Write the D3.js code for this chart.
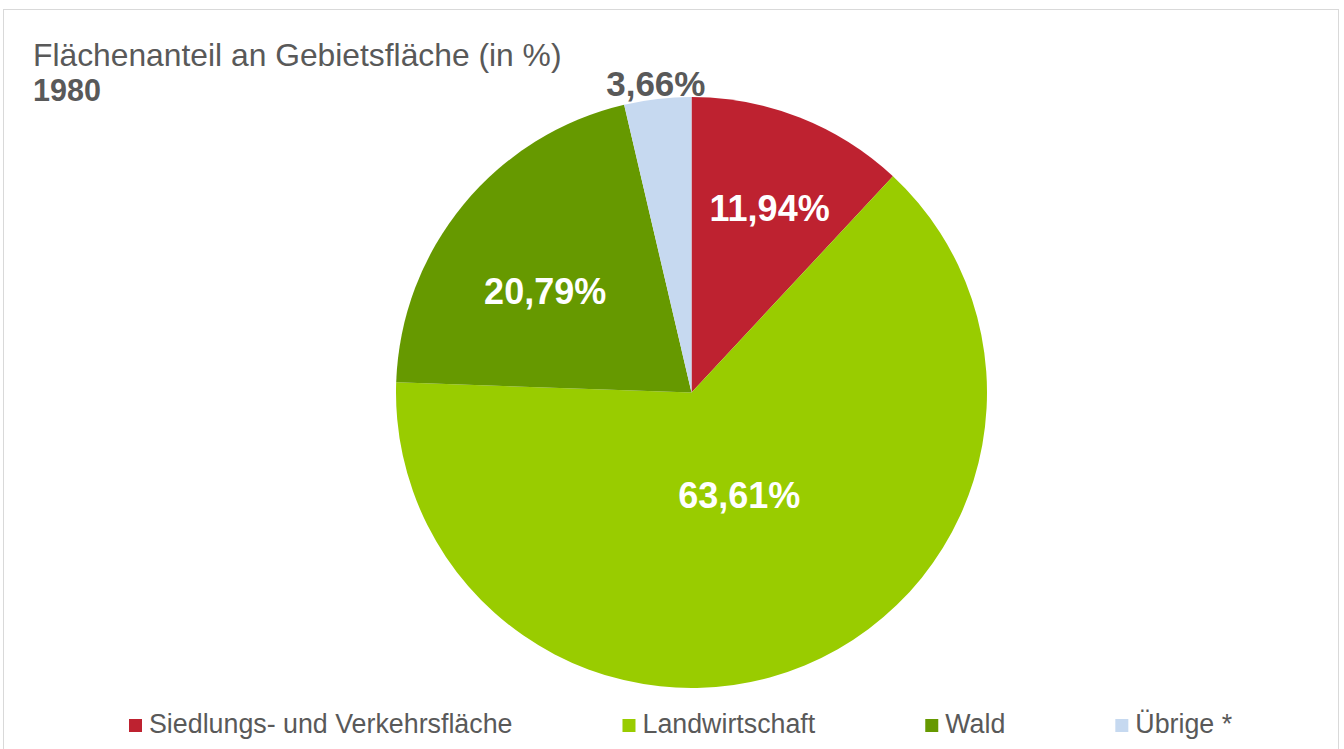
<!DOCTYPE html>
<html>
<head>
<meta charset="utf-8">
<script src="https://cdn.jsdelivr.net/npm/d3@7"></script>
<style>
  html, body { margin: 0; padding: 0; background: #fff; }
  svg { display: block; font-family: "Liberation Sans", Arial, sans-serif; }
</style>
</head>
<body>
<svg id="chart" width="1344" height="749"></svg>
<script>
/* data */
const categories = ["Siedlungs- und Verkehrsfläche", "Landwirtschaft", "Wald", "Übrige *"]
const shares = [11.94, 63.61, 20.79, 3.66]
const colors = ["#be2230", "#99cc00", "#669900", "#c6d9f0"]
const titleText = "Flächenanteil an Gebietsfläche (in %)"
const yearText = "1980"

/* layout */
const width = 1344
const height = 749
const cx = 691.5
const cy = 392.5
const radius = 295.5
const textGray = "#595959"
// label placement per slice: distance from centre and small angle nudge (deg)
const labelRadius = [200, 113, 178, 311]
const labelShift = [1.5, -2.5, -4.7, 0]
const labelInside = [true, true, true, false]

const svg = d3.select("#chart")

/* chart area border */
svg.append("rect")
.attr("x", 3.5)
.attr("y", 9.5)
.attr("width", 1335)
.attr("height", height)
.attr("fill", "none")
.attr("stroke", "#d9d9d9")
.attr("stroke-width", 1)

/* title */
svg.append("text")
.attr("x", 33)
.attr("y", 66)
.attr("fill", textGray)
.style("font-size", "31.8px")
.text(titleText)

svg.append("text")
.attr("x", 33)
.attr("y", 101)
.attr("fill", textGray)
.style("font-size", "30.5px")
.style("font-weight", "bold")
.text(yearText)

/* pie */
const pie = d3.pie().sort(null).value(d => d)
const arcs = pie(shares)
const arc = d3.arc().innerRadius(0).outerRadius(radius)

const g = svg.append("g")
.attr("transform", `translate(${cx},${cy})`)

g.selectAll("path")
.data(arcs)
.join("path")
.attr("d", arc)
.attr("fill", (d, i) => colors[i])

const fmt = v => d3.format(".2f")(v).replace(".", ",") + "%"

g.selectAll("text")
.data(arcs)
.join("text")
.attr("transform", (d, i) => {
  const a = (d.startAngle + d.endAngle) / 2 + labelShift[i] * Math.PI / 180
  const r = labelRadius[i]
  return `translate(${r * Math.sin(a)},${-r * Math.cos(a)})`
})
.attr("text-anchor", "middle")
.attr("dy", "0.36em")
.attr("fill", (d, i) => labelInside[i] ? "#fff" : textGray)
.style("font-size", (d, i) => labelInside[i] ? "36px" : "35px")
.style("font-weight", "bold")
.text(d => fmt(d.data))

/* legend */
const legend = svg.append("g")
.attr("transform", "translate(129,0)")

let lx = 0
categories.forEach((c, i) => {
  const item = legend.append("g").attr("transform", `translate(${lx},0)`)
  item.append("rect")
  .attr("x", 0)
  .attr("y", 719)
  .attr("width", 13)
  .attr("height", 13)
  .attr("fill", colors[i])
  const t = item.append("text")
  .attr("x", 20)
  .attr("y", 733)
  .attr("fill", textGray)
  .style("font-size", "26.8px")
  .text(c)
  lx += 20 + t.node().getComputedTextLength() + 110
})
</script>
</body>
</html>
